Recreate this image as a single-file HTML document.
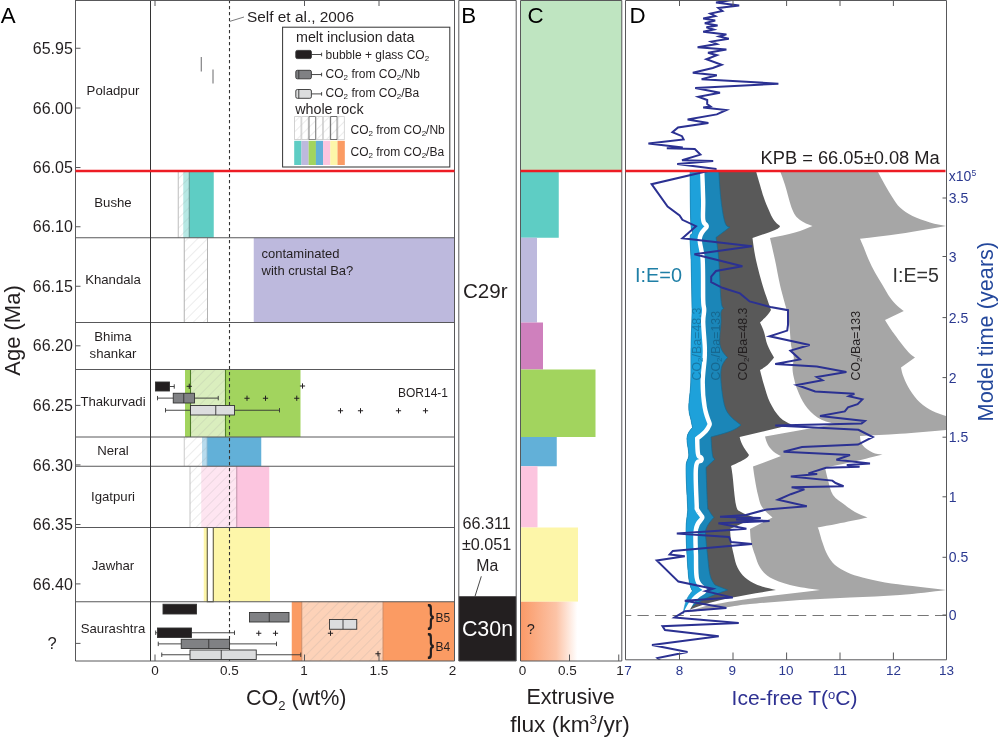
<!DOCTYPE html>
<html lang="en">
<head>
<meta charset="utf-8">
<title>Deccan CO2 budget and ice-free temperature</title>
<style>
html,body{margin:0;padding:0;background:#fff;}
body{width:1000px;height:740px;overflow:hidden;font-family:"Liberation Sans",sans-serif;}
svg{display:block;}
text{font-family:"Liberation Sans",sans-serif;fill:#231f20;}
.n{font-size:13.2px;text-anchor:middle;}
.yt{font-size:16px;text-anchor:end;}
.xt{font-size:13.5px;text-anchor:middle;}
.lg{font-size:12px;}
.lh{font-size:14.3px;}
.nv{fill:#2b3990;}
.pl{font-size:21.5px;font-family:"Liberation Sans",sans-serif;}
</style>
</head>
<body>
<svg width="1000" height="740" viewBox="0 0 1000 740">
<defs>
<pattern id="hatch" width="7" height="7" patternUnits="userSpaceOnUse" patternTransform="rotate(-45)">
<line x1="0" y1="0" x2="7" y2="0" stroke="#9a9a9a" stroke-width="0.7" stroke-opacity="0.55"/>
</pattern>
<linearGradient id="og" x1="0" x2="1" y1="0" y2="0">
<stop offset="0" stop-color="#fa9a68"/>
<stop offset="0.35" stop-color="#fcc3a6"/>
<stop offset="0.56" stop-color="#ffffff"/>
<stop offset="1" stop-color="#ffffff"/>
</linearGradient>
<clipPath id="clipD"><rect x="625.5" y="0" width="321" height="660"/></clipPath>
</defs>
<rect x="0" y="0" width="1000" height="740" fill="#ffffff"/>

<g id="panelA">
<rect x="183.25" y="171.00" width="30.50" height="66.75" fill="#5ecdc4" />
<rect x="253.75" y="237.75" width="200.75" height="84.75" fill="#bdb9dd" />
<rect x="185.00" y="369.50" width="115.50" height="67.50" fill="#a2d45e" />
<rect x="202.00" y="437.00" width="59.25" height="29.25" fill="#62b0d8" />
<rect x="201.25" y="466.25" width="68.00" height="61.25" fill="#fcc5df" />
<rect x="203.75" y="527.50" width="66.25" height="74.25" fill="#fdf6a9" />
<rect x="291.75" y="601.75" width="162.75" height="59.25" fill="#fb9b63" />
<rect x="178.25" y="171.00" width="11.00" height="66.75" fill="#ffffff" fill-opacity="0.55"/>
<rect x="178.25" y="171.00" width="11.00" height="66.75" fill="url(#hatch)" />
<line x1="178.25" y1="171.00" x2="178.25" y2="237.75" stroke="#b5b5b5" stroke-width="0.90"/>
<line x1="189.25" y1="171.00" x2="189.25" y2="237.75" stroke="#5c8f8a" stroke-width="0.90"/>
<rect x="184.25" y="237.75" width="23.25" height="84.75" fill="#ffffff" fill-opacity="0.55"/>
<rect x="184.25" y="237.75" width="23.25" height="84.75" fill="url(#hatch)" />
<line x1="184.25" y1="237.75" x2="184.25" y2="322.50" stroke="#a9a9a9" stroke-width="0.90"/>
<line x1="207.50" y1="237.75" x2="207.50" y2="322.50" stroke="#a9a9a9" stroke-width="0.90"/>
<rect x="190.50" y="369.50" width="35.00" height="67.50" fill="#ffffff" fill-opacity="0.60"/>
<rect x="190.50" y="369.50" width="35.00" height="67.50" fill="url(#hatch)" />
<line x1="190.50" y1="369.50" x2="190.50" y2="437.00" stroke="#4f7f28" stroke-width="1.10"/>
<line x1="225.50" y1="369.50" x2="225.50" y2="437.00" stroke="#4f7f28" stroke-width="1.10"/>
<rect x="184.25" y="437.00" width="22.75" height="29.25" fill="#ffffff" fill-opacity="0.55"/>
<rect x="184.25" y="437.00" width="22.75" height="29.25" fill="url(#hatch)" />
<line x1="184.25" y1="437.00" x2="184.25" y2="466.25" stroke="#c4c4c4" stroke-width="0.90"/>
<line x1="207.00" y1="437.00" x2="207.00" y2="466.25" stroke="#8fb9d0" stroke-width="0.90"/>
<rect x="190.00" y="466.25" width="46.75" height="61.25" fill="#ffffff" fill-opacity="0.55"/>
<rect x="190.00" y="466.25" width="46.75" height="61.25" fill="url(#hatch)" />
<line x1="190.00" y1="466.25" x2="190.00" y2="527.50" stroke="#bdbdbd" stroke-width="0.90"/>
<line x1="236.75" y1="466.25" x2="236.75" y2="527.50" stroke="#b98aa3" stroke-width="0.90"/>
<rect x="207.25" y="527.50" width="6.00" height="74.25" fill="#ffffff" stroke="#4d4a33" stroke-width="1"/>
<rect x="301.75" y="601.75" width="81.25" height="59.25" fill="#ffffff" fill-opacity="0.55"/>
<rect x="301.75" y="601.75" width="81.25" height="59.25" fill="url(#hatch)" />
<line x1="301.75" y1="601.75" x2="301.75" y2="661.00" stroke="#c98a68" stroke-width="0.90"/>
<line x1="383.00" y1="601.75" x2="383.00" y2="661.00" stroke="#c98a68" stroke-width="0.90"/>
<line x1="201.25" y1="57" x2="201.25" y2="71.5" stroke="#58585a" stroke-width="0.9"/>
<line x1="213" y1="69.5" x2="213" y2="83.5" stroke="#58585a" stroke-width="0.9"/>
<line x1="75.5" y1="237.75" x2="454.5" y2="237.75" stroke="#58585a" stroke-width="1"/>
<line x1="75.5" y1="322.50" x2="454.5" y2="322.50" stroke="#58585a" stroke-width="1"/>
<line x1="75.5" y1="369.50" x2="454.5" y2="369.50" stroke="#58585a" stroke-width="1"/>
<line x1="75.5" y1="437.00" x2="454.5" y2="437.00" stroke="#58585a" stroke-width="1"/>
<line x1="75.5" y1="466.25" x2="454.5" y2="466.25" stroke="#58585a" stroke-width="1"/>
<line x1="75.5" y1="527.50" x2="454.5" y2="527.50" stroke="#58585a" stroke-width="1"/>
<line x1="75.5" y1="601.75" x2="454.5" y2="601.75" stroke="#58585a" stroke-width="1"/>
<line x1="150.5" y1="0" x2="150.5" y2="661" stroke="#333" stroke-width="1"/>
<line x1="229.5" y1="0" x2="229.5" y2="661" stroke="#333" stroke-width="1.1" stroke-dasharray="3.2,2.8"/>
<path d="M75.5,0 V661 H454.5 V0" fill="none" stroke="#58585a" stroke-width="1"/>
<line x1="75.5" y1="0.5" x2="454.5" y2="0.5" stroke="#58585a" stroke-width="1"/>
<line x1="75.5" y1="48.25" x2="80.5" y2="48.25" stroke="#58585a" stroke-width="1"/>
<text class="yt" x="72.8" y="53.85">65.95</text>
<line x1="75.5" y1="108.00" x2="80.5" y2="108.00" stroke="#58585a" stroke-width="1"/>
<text class="yt" x="72.8" y="113.60">66.00</text>
<line x1="75.5" y1="167.50" x2="80.5" y2="167.50" stroke="#58585a" stroke-width="1"/>
<text class="yt" x="72.8" y="173.10">66.05</text>
<line x1="75.5" y1="226.75" x2="80.5" y2="226.75" stroke="#58585a" stroke-width="1"/>
<text class="yt" x="72.8" y="232.35">66.10</text>
<line x1="75.5" y1="286.25" x2="80.5" y2="286.25" stroke="#58585a" stroke-width="1"/>
<text class="yt" x="72.8" y="291.85">66.15</text>
<line x1="75.5" y1="345.80" x2="80.5" y2="345.80" stroke="#58585a" stroke-width="1"/>
<text class="yt" x="72.8" y="351.40">66.20</text>
<line x1="75.5" y1="405.40" x2="80.5" y2="405.40" stroke="#58585a" stroke-width="1"/>
<text class="yt" x="72.8" y="411.00">66.25</text>
<line x1="75.5" y1="464.90" x2="80.5" y2="464.90" stroke="#58585a" stroke-width="1"/>
<text class="yt" x="72.8" y="470.50">66.30</text>
<line x1="75.5" y1="524.50" x2="80.5" y2="524.50" stroke="#58585a" stroke-width="1"/>
<text class="yt" x="72.8" y="530.10">66.35</text>
<line x1="75.5" y1="583.90" x2="80.5" y2="583.90" stroke="#58585a" stroke-width="1"/>
<text class="yt" x="72.8" y="589.50">66.40</text>
<line x1="75.5" y1="643.4" x2="80.5" y2="643.4" stroke="#58585a" stroke-width="1"/>
<text x="52" y="649" font-size="16.5px" text-anchor="middle">?</text>
<line x1="155.00" y1="661" x2="155.00" y2="654.5" stroke="#58585a" stroke-width="1"/>
<line x1="229.50" y1="661" x2="229.50" y2="654.5" stroke="#58585a" stroke-width="1"/>
<line x1="304.50" y1="661" x2="304.50" y2="654.5" stroke="#58585a" stroke-width="1"/>
<line x1="379.00" y1="661" x2="379.00" y2="654.5" stroke="#58585a" stroke-width="1"/>
<line x1="155.00" y1="0" x2="155.00" y2="6" stroke="#58585a" stroke-width="1"/>
<line x1="304.50" y1="0" x2="304.50" y2="6" stroke="#58585a" stroke-width="1"/>
<line x1="379.00" y1="0" x2="379.00" y2="6" stroke="#58585a" stroke-width="1"/>
<text class="xt" x="155.00" y="674.9">0</text>
<text class="xt" x="229.50" y="674.9">0.5</text>
<text class="xt" x="304.00" y="674.9">1</text>
<text class="xt" x="379.00" y="674.9">1.5</text>
<text class="xt" x="452.50" y="674.9">2</text>
<text class="n" x="113" y="94.50">Poladpur</text>
<text class="n" x="113" y="207.00">Bushe</text>
<text class="n" x="113" y="283.75">Khandala</text>
<text class="n" x="113" y="341.25">Bhima</text>
<text class="n" x="113" y="357.50">shankar</text>
<text class="n" x="113" y="405.75">Thakurvadi</text>
<text class="n" x="113" y="455.00">Neral</text>
<text class="n" x="113" y="501.25">Igatpuri</text>
<text class="n" x="113" y="570.00">Jawhar</text>
<text class="n" x="113" y="632.50">Saurashtra</text>
<line x1="169.50" y1="386.50" x2="174.25" y2="386.50" stroke="#333" stroke-width="0.90"/>
<line x1="174.25" y1="384.30" x2="174.25" y2="388.70" stroke="#333" stroke-width="0.90"/>
<rect x="155.50" y="382.00" width="14.00" height="9.00" fill="#231f20" stroke="#333" stroke-width="0.90"/>
<path d="M186.65,386.30 h5.20 M189.25,383.70 v5.20" stroke="#231f20" stroke-width="1" fill="none"/>
<path d="M299.90,386.00 h5.20 M302.50,383.40 v5.20" stroke="#231f20" stroke-width="1" fill="none"/>
<line x1="157.50" y1="398.12" x2="173.25" y2="398.12" stroke="#333" stroke-width="0.90"/>
<line x1="157.50" y1="395.93" x2="157.50" y2="400.32" stroke="#333" stroke-width="0.90"/>
<line x1="194.50" y1="398.12" x2="218.25" y2="398.12" stroke="#333" stroke-width="0.90"/>
<line x1="218.25" y1="395.93" x2="218.25" y2="400.32" stroke="#333" stroke-width="0.90"/>
<rect x="173.25" y="393.25" width="21.25" height="9.75" fill="#808184" stroke="#333" stroke-width="0.90"/>
<line x1="183.75" y1="393.25" x2="183.75" y2="403.00" stroke="#333" stroke-width="0.90"/>
<path d="M244.40,398.25 h5.20 M247.00,395.65 v5.20" stroke="#231f20" stroke-width="1" fill="none"/>
<path d="M262.90,398.25 h5.20 M265.50,395.65 v5.20" stroke="#231f20" stroke-width="1" fill="none"/>
<path d="M294.15,398.25 h5.20 M296.75,395.65 v5.20" stroke="#231f20" stroke-width="1" fill="none"/>
<line x1="165.50" y1="410.25" x2="190.50" y2="410.25" stroke="#333" stroke-width="0.90"/>
<line x1="165.50" y1="408.05" x2="165.50" y2="412.45" stroke="#333" stroke-width="0.90"/>
<line x1="234.50" y1="410.25" x2="279.50" y2="410.25" stroke="#333" stroke-width="0.90"/>
<line x1="279.50" y1="408.05" x2="279.50" y2="412.45" stroke="#333" stroke-width="0.90"/>
<rect x="190.50" y="405.50" width="44.00" height="9.50" fill="#dcddde" stroke="#333" stroke-width="0.90"/>
<line x1="215.75" y1="405.50" x2="215.75" y2="415.00" stroke="#333" stroke-width="0.90"/>
<path d="M337.90,410.75 h5.20 M340.50,408.15 v5.20" stroke="#231f20" stroke-width="1" fill="none"/>
<path d="M357.90,410.75 h5.20 M360.50,408.15 v5.20" stroke="#231f20" stroke-width="1" fill="none"/>
<path d="M395.90,410.75 h5.20 M398.50,408.15 v5.20" stroke="#231f20" stroke-width="1" fill="none"/>
<path d="M422.90,410.75 h5.20 M425.50,408.15 v5.20" stroke="#231f20" stroke-width="1" fill="none"/>
<rect x="163.00" y="604.25" width="33.50" height="9.75" fill="#231f20" stroke="#333" stroke-width="0.90"/>
<rect x="249.50" y="612.50" width="39.50" height="9.50" fill="#808184" stroke="#333" stroke-width="0.90"/>
<line x1="269.25" y1="612.50" x2="269.25" y2="622.00" stroke="#333" stroke-width="0.90"/>
<rect x="329.50" y="619.50" width="27.25" height="9.75" fill="#dcddde" stroke="#333" stroke-width="0.90"/>
<line x1="343.00" y1="619.50" x2="343.00" y2="629.25" stroke="#333" stroke-width="0.90"/>
<line x1="155.70" y1="632.75" x2="157.50" y2="632.75" stroke="#333" stroke-width="0.90"/>
<line x1="155.70" y1="630.55" x2="155.70" y2="634.95" stroke="#333" stroke-width="0.90"/>
<line x1="191.50" y1="632.75" x2="234.50" y2="632.75" stroke="#333" stroke-width="0.90"/>
<line x1="234.50" y1="630.55" x2="234.50" y2="634.95" stroke="#333" stroke-width="0.90"/>
<rect x="157.50" y="628.00" width="34.00" height="9.50" fill="#231f20" stroke="#333" stroke-width="0.90"/>
<path d="M256.15,633.25 h5.20 M258.75,630.65 v5.20" stroke="#231f20" stroke-width="1" fill="none"/>
<path d="M272.90,633.25 h5.20 M275.50,630.65 v5.20" stroke="#231f20" stroke-width="1" fill="none"/>
<path d="M327.90,633.25 h5.20 M330.50,630.65 v5.20" stroke="#231f20" stroke-width="1" fill="none"/>
<line x1="158.25" y1="643.88" x2="181.25" y2="643.88" stroke="#333" stroke-width="0.90"/>
<line x1="158.25" y1="641.67" x2="158.25" y2="646.08" stroke="#333" stroke-width="0.90"/>
<line x1="229.50" y1="643.88" x2="276.50" y2="643.88" stroke="#333" stroke-width="0.90"/>
<line x1="276.50" y1="641.67" x2="276.50" y2="646.08" stroke="#333" stroke-width="0.90"/>
<rect x="181.25" y="639.25" width="48.25" height="9.25" fill="#808184" stroke="#333" stroke-width="0.90"/>
<line x1="208.75" y1="639.25" x2="208.75" y2="648.50" stroke="#333" stroke-width="0.90"/>
<line x1="161.75" y1="654.75" x2="190.00" y2="654.75" stroke="#333" stroke-width="0.90"/>
<line x1="161.75" y1="652.55" x2="161.75" y2="656.95" stroke="#333" stroke-width="0.90"/>
<line x1="256.25" y1="654.75" x2="300.75" y2="654.75" stroke="#333" stroke-width="0.90"/>
<line x1="300.75" y1="652.55" x2="300.75" y2="656.95" stroke="#333" stroke-width="0.90"/>
<rect x="190.00" y="650.00" width="66.25" height="9.50" fill="#dcddde" stroke="#333" stroke-width="0.90"/>
<line x1="221.25" y1="650.00" x2="221.25" y2="659.50" stroke="#333" stroke-width="0.90"/>
<path d="M375.40,653.75 h5.20 M378.00,651.15 v5.20" stroke="#231f20" stroke-width="1" fill="none"/>
<text x="261.5" y="258" font-size="13px">contaminated</text>
<text x="261.5" y="275" font-size="13px">with crustal Ba?</text>
<text x="398" y="396.75" font-size="12px">BOR14-1</text>
<text x="435.5" y="622" font-size="12px">B5</text>
<text x="435.5" y="651.25" font-size="12px">B4</text>
<text transform="translate(427.6,623.6) scale(0.62,1)" font-size="27.5px" font-weight="bold">}</text>
<text transform="translate(427.6,652.6) scale(0.62,1)" font-size="27.5px" font-weight="bold">}</text>
<line x1="75.5" y1="171" x2="454.5" y2="171" stroke="#ed1c24" stroke-width="2.4"/>
<line x1="230" y1="21.3" x2="244" y2="17" stroke="#58585a" stroke-width="0.8"/>
<text x="247" y="22" font-size="15.4px">Self et al., 2006</text>
<rect x="282.6" y="27.2" width="167.2" height="139.8" fill="#fff" stroke="#333" stroke-width="1"/>
<text class="lh" x="296" y="42">melt inclusion data</text>
<text class="lg" x="325.6" y="58.7">bubble + glass CO<tspan font-size="8px" dy="2">2</tspan></text>
<text class="lg" x="325.6" y="77.8">CO<tspan font-size="8px" dy="2">2</tspan><tspan dy="-2"> from CO</tspan><tspan font-size="8px" dy="2">2</tspan><tspan dy="-2">/Nb</tspan></text>
<text class="lg" x="325.6" y="96.7">CO<tspan font-size="8px" dy="2">2</tspan><tspan dy="-2"> from CO</tspan><tspan font-size="8px" dy="2">2</tspan><tspan dy="-2">/Ba</tspan></text>
<text class="lh" x="295.2" y="113.7">whole rock</text>
<text class="lg" x="350.5" y="133.7">CO<tspan font-size="8px" dy="2">2</tspan><tspan dy="-2"> from CO</tspan><tspan font-size="8px" dy="2">2</tspan><tspan dy="-2">/Nb</tspan></text>
<text class="lg" x="350.5" y="155.5">CO<tspan font-size="8px" dy="2">2</tspan><tspan dy="-2"> from CO</tspan><tspan font-size="8px" dy="2">2</tspan><tspan dy="-2">/Ba</tspan></text>
<line x1="311.4" y1="54.50" x2="321.6" y2="54.50" stroke="#333" stroke-width="0.9"/>
<line x1="321.6" y1="52.70" x2="321.6" y2="56.30" stroke="#333" stroke-width="0.9"/>
<rect x="295.8" y="50.40" width="15.6" height="8.20" rx="1.5" fill="#231f20" stroke="#333" stroke-width="0.9"/>
<line x1="311.4" y1="74.55" x2="321.6" y2="74.55" stroke="#333" stroke-width="0.9"/>
<line x1="321.6" y1="72.75" x2="321.6" y2="76.35" stroke="#333" stroke-width="0.9"/>
<rect x="295.8" y="70.30" width="15.6" height="8.50" rx="1.5" fill="#808184" stroke="#333" stroke-width="0.9"/>
<line x1="298.8" y1="70.30" x2="298.8" y2="78.80" stroke="#333" stroke-width="0.9"/>
<line x1="311.4" y1="93.90" x2="321.6" y2="93.90" stroke="#333" stroke-width="0.9"/>
<line x1="321.6" y1="92.10" x2="321.6" y2="95.70" stroke="#333" stroke-width="0.9"/>
<rect x="295.8" y="89.50" width="15.6" height="8.80" rx="1.5" fill="#dcddde" stroke="#333" stroke-width="0.9"/>
<line x1="298.8" y1="89.50" x2="298.8" y2="98.30" stroke="#333" stroke-width="0.9"/>
<rect x="294.20" y="116.6" width="7.22" height="23" fill="url(#hatch)"/>
<rect x="294.60" y="116.6" width="6.40" height="23" fill="none" stroke="#c8c8c8" stroke-width="0.8"/>
<rect x="294.20" y="140.8" width="7.3" height="24.2" fill="#5ecdc4"/>
<rect x="301.42" y="116.6" width="7.22" height="23" fill="url(#hatch)"/>
<rect x="301.82" y="116.6" width="6.40" height="23" fill="none" stroke="#c8c8c8" stroke-width="0.8"/>
<rect x="301.42" y="140.8" width="7.3" height="24.2" fill="#bdb9dd"/>
<rect x="308.64" y="116.6" width="7.22" height="23" fill="url(#hatch)"/>
<rect x="309.04" y="116.6" width="6.40" height="23" fill="none" stroke="#6d6d6d" stroke-width="0.8"/>
<rect x="308.64" y="140.8" width="7.3" height="24.2" fill="#a2d45e"/>
<rect x="315.86" y="116.6" width="7.22" height="23" fill="url(#hatch)"/>
<rect x="316.26" y="116.6" width="6.40" height="23" fill="none" stroke="#c8c8c8" stroke-width="0.8"/>
<rect x="315.86" y="140.8" width="7.3" height="24.2" fill="#62b0d8"/>
<rect x="323.08" y="116.6" width="7.22" height="23" fill="url(#hatch)"/>
<rect x="323.48" y="116.6" width="6.40" height="23" fill="none" stroke="#cfcfcf" stroke-width="0.8"/>
<rect x="323.08" y="140.8" width="7.3" height="24.2" fill="#fcc5df"/>
<rect x="330.30" y="116.6" width="7.22" height="23" fill="url(#hatch)"/>
<rect x="330.70" y="116.6" width="6.40" height="23" fill="none" stroke="#4a4a4a" stroke-width="0.8"/>
<rect x="330.30" y="140.8" width="7.3" height="24.2" fill="#fdf6a9"/>
<rect x="337.52" y="116.6" width="7.22" height="23" fill="url(#hatch)"/>
<rect x="337.92" y="116.6" width="6.40" height="23" fill="none" stroke="#cfcfcf" stroke-width="0.8"/>
<rect x="337.52" y="140.8" width="7.3" height="24.2" fill="#fb9b63"/>
<text x="0.8" y="22.5" font-size="22.3px" style="fill:#000">A</text>
<text transform="translate(19.9,330.5) rotate(-90)" text-anchor="middle" font-size="22px">Age (Ma)</text>
<text x="296.3" y="705" text-anchor="middle" font-size="21.5px">CO<tspan font-size="13px" dy="5">2</tspan><tspan dy="-5"> (wt%)</tspan></text>
</g>
<g id="panelB">
<rect x="458.8" y="596.25" width="57.4" height="64.75" fill="#231f20"/>
<path d="M458.8,0.5 V661 H516.2 V0.5 Z" fill="none" stroke="#58585a" stroke-width="1"/>
<text x="461.2" y="22.5" font-size="22.3px" style="fill:#000">B</text>
<text x="485.3" y="297.5" text-anchor="middle" font-size="20.6px">C29r</text>
<text x="486.7" y="528.75" text-anchor="middle" font-size="16.2px">66.311</text>
<text x="486.7" y="550" text-anchor="middle" font-size="16.2px">±0.051</text>
<text x="487.2" y="571.25" text-anchor="middle" font-size="15.8px">Ma</text>
<line x1="481.3" y1="576.3" x2="475" y2="596.3" stroke="#333" stroke-width="0.9"/>
<text x="487.5" y="635.5" text-anchor="middle" font-size="21.4px" style="fill:#ffffff">C30n</text>
</g>
<g id="panelC">
<rect x="521.00" y="0.00" width="100.80" height="170.00" fill="#bfe5c1" />
<rect x="521.00" y="171.00" width="37.75" height="66.75" fill="#5ecdc4" />
<rect x="521.00" y="237.75" width="16.00" height="84.75" fill="#bdb9dd" />
<rect x="521.00" y="322.50" width="22.00" height="47.00" fill="#cf80bd" />
<rect x="521.00" y="369.50" width="74.50" height="67.50" fill="#a2d45e" />
<rect x="521.00" y="437.00" width="35.75" height="29.25" fill="#62b0d8" />
<rect x="521.00" y="466.25" width="16.50" height="61.25" fill="#fcc5df" />
<rect x="521.00" y="527.50" width="57.00" height="74.25" fill="#fdf6a9" />
<rect x="521.00" y="601.75" width="100.50" height="59.25" fill="url(#og)" />
<path d="M520.5,0.5 V661 H621.8 V0.5 Z" fill="none" stroke="#58585a" stroke-width="1"/>
<line x1="520.5" y1="171" x2="621.8" y2="171" stroke="#ed1c24" stroke-width="2.4"/>
<line x1="569.50" y1="661" x2="569.50" y2="654.5" stroke="#58585a" stroke-width="1"/>
<line x1="618.75" y1="661" x2="618.75" y2="654.5" stroke="#58585a" stroke-width="1"/>
<text class="xt" x="522.50" y="674.9">0</text>
<text class="xt" x="567.50" y="674.9">0.5</text>
<text class="xt" x="620.00" y="674.9">1</text>
<text x="527.5" y="22.5" font-size="22.3px" style="fill:#000">C</text>
<text x="526.8" y="634" font-size="14.5px">?</text>
<text x="570.6" y="704.25" text-anchor="middle" font-size="21.5px">Extrusive</text>
<text x="570" y="732" text-anchor="middle" font-size="22.7px">flux (km<tspan font-size="13.5px" dy="-8">3</tspan><tspan dy="8">/yr)</tspan></text>
</g>
<g id="panelD">
<g clip-path="url(#clipD)">
<path d="M780.0,171.0C781.3,174.4 782.9,178.5 785.0,185.0C787.1,191.5 790.0,204.2 792.5,210.0C795.0,215.8 796.7,217.3 800.0,220.0C803.3,222.7 808.4,224.5 812.5,226.0C807.8,228.0 802.1,230.5 795.0,232.5C787.9,234.5 778.1,236.4 770.0,238.0C771.5,244.4 773.3,252.2 775.0,260.0C776.7,267.8 778.2,277.1 780.0,285.0C781.8,292.9 784.5,301.7 786.0,307.5C787.5,313.3 788.1,315.8 788.8,320.0C789.4,324.2 789.6,328.3 790.0,332.5C790.4,336.7 790.4,340.8 791.0,345.0C791.6,349.2 793.5,353.8 793.8,357.5C794.0,361.2 792.5,364.2 792.5,367.5C792.5,370.8 792.9,373.8 793.8,377.5C794.6,381.2 795.6,385.4 797.5,390.0C799.4,394.6 801.7,400.4 805.0,405.0C808.3,409.6 812.5,414.3 817.5,417.5C822.5,420.7 829.4,422.5 835.0,424.0L765.0,436.6C765.7,439.2 766.5,442.4 768.0,445.0C769.5,447.6 771.8,450.2 774.0,452.0C776.2,453.8 778.8,455.0 781.0,456.0L753.0,466.5C753.5,470.4 754.2,475.2 755.0,480.0C755.8,484.8 756.8,490.5 758.0,495.0C759.2,499.5 759.6,503.2 762.0,507.0C764.4,510.8 768.9,514.5 772.5,517.5L750.0,529.0C750.2,533.1 750.4,538.2 751.2,542.5C752.1,546.8 753.5,550.8 755.0,555.0C756.5,559.2 757.5,563.8 760.0,567.5C762.5,571.2 765.0,574.6 770.0,577.5C775.0,580.4 781.7,582.9 790.0,585.0C798.3,587.1 810.2,588.7 820.0,590.0C804.6,591.8 785.8,593.9 770.0,596.0C754.2,598.1 736.2,600.7 725.0,602.5C713.8,604.3 709.5,605.2 702.5,607.0C695.5,608.8 688.6,611.1 683.0,613.0L683.0,613.0C696.9,611.2 713.8,609.0 725.0,607.5C736.2,606.0 737.5,605.2 750.0,604.0C762.5,602.8 783.3,601.1 800.0,600.0C816.7,598.9 833.3,598.3 850.0,597.5C866.7,596.7 884.0,596.2 900.0,595.0C916.0,593.8 932.5,591.7 946.0,590.0C935.5,588.8 922.7,587.2 912.5,586.0C902.3,584.8 893.3,583.9 885.0,582.5C876.7,581.1 868.8,579.2 862.5,577.5C856.2,575.8 852.1,574.6 847.5,572.5C842.9,570.4 838.3,567.9 835.0,565.0C831.7,562.1 829.6,558.8 827.5,555.0C825.4,551.2 824.0,546.7 822.5,542.5C821.0,538.3 819.6,532.5 818.8,530.0C817.9,527.5 817.7,527.5 817.5,527.5C822.8,526.6 829.2,525.4 837.5,523.8C845.8,522.1 857.8,519.6 867.5,517.5C863.6,516.0 858.8,514.1 855.0,512.0C851.2,509.9 848.7,507.8 845.0,505.0C841.3,502.2 835.8,499.2 833.0,495.0C830.2,490.8 829.3,484.6 828.0,480.0C826.7,475.4 825.8,471.1 825.0,467.5C831.9,466.2 840.4,464.7 850.0,462.5C859.6,460.3 872.2,457.1 882.5,454.5C879.5,454.3 875.8,454.1 872.5,452.5C869.2,450.9 864.6,447.8 862.5,445.0C860.4,442.2 860.2,438.8 860.0,436.0C871.5,435.4 885.7,434.8 900.0,433.8C914.3,432.8 931.8,431.2 946.0,430.0L946.0,416.0C941.9,414.8 936.8,413.2 932.5,411.0C928.2,408.8 923.8,406.0 920.0,402.5C916.2,399.0 912.7,394.2 910.0,390.0C907.3,385.8 905.2,381.2 903.8,377.5C902.2,373.8 901.6,370.3 901.0,367.5L915.0,357.5C913.7,356.8 912.1,355.8 910.0,353.8C907.9,351.7 905.0,348.1 902.5,345.0C900.0,341.9 897.1,337.8 895.0,335.0C892.9,332.2 891.7,330.5 890.0,328.0C888.3,325.5 886.5,322.5 885.0,320.0L903.8,311.0C902.0,309.8 899.8,308.2 897.5,306.0C895.2,303.8 892.5,301.0 890.0,297.5C887.5,294.0 885.0,289.2 882.5,285.0C880.0,280.8 877.3,276.7 875.0,272.5C872.7,268.3 870.6,264.2 868.8,260.0C866.9,255.8 865.2,251.0 863.8,247.5C862.3,244.0 861.0,241.1 860.0,238.8C871.5,237.5 885.7,235.9 900.0,233.8C914.3,231.6 931.8,228.5 946.0,226.0C941.3,225.2 935.6,224.2 930.0,222.5C924.4,220.8 917.5,218.5 912.5,216.0C907.5,213.5 903.3,210.6 900.0,207.5C896.7,204.4 895.0,201.2 892.5,197.5C890.0,193.8 887.5,189.4 885.0,185.0C882.5,180.6 879.8,175.3 877.5,171.0Z" fill="#a6a6a6"/>
<path d="M690.0,171.0C690.1,189.6 690.3,212.2 690.8,222.5C691.2,232.8 692.6,230.0 692.5,232.5C692.4,235.0 690.2,232.9 690.0,237.5C689.8,242.1 690.7,247.9 691.0,260.0C691.3,272.1 692.0,295.8 692.0,310.0C692.0,324.2 691.2,333.0 691.0,345.0C690.8,357.0 691.1,371.6 690.8,382.0C690.4,392.4 688.7,401.2 688.8,407.5C688.8,413.8 690.4,416.7 691.0,420.0C691.6,423.3 692.1,425.6 692.5,427.5C690.3,429.9 687.6,432.9 687.0,437.5C686.4,442.1 688.9,450.0 688.8,455.0C688.6,460.0 686.2,459.2 686.0,467.5C685.8,475.8 687.2,497.5 687.5,505.0C687.8,512.5 687.8,508.5 687.5,512.5C687.2,516.5 686.1,521.9 686.0,529.0C685.9,536.1 686.5,546.5 687.0,555.0C687.5,563.5 688.1,574.0 689.0,580.0C689.9,586.0 691.3,588.8 692.5,591.0C690.5,593.3 688.1,596.2 686.5,600.0C684.9,603.8 683.9,609.4 683.0,614.0L683.0,613.0C688.1,610.6 694.2,607.6 702.5,605.0C710.8,602.4 720.2,600.0 732.5,597.5C744.8,595.0 761.9,592.2 776.0,590.0C770.0,588.7 762.7,587.1 757.5,585.0C752.3,582.9 748.3,580.4 745.0,577.5C741.7,574.6 739.4,571.2 737.5,567.5C735.6,563.8 734.8,559.2 733.8,555.0C732.7,550.8 731.9,546.8 731.2,542.5C730.6,538.2 730.3,533.1 730.0,529.0L755.0,517.5C750.1,516.0 744.2,514.1 741.0,512.0C737.8,509.9 737.4,511.2 736.0,505.0C734.6,498.8 733.3,481.5 732.5,475.0C731.7,468.5 731.3,467.1 731.0,466.0C736.0,463.7 742.0,460.8 745.0,459.0C748.0,457.2 748.5,456.0 749.0,455.0C746.8,451.9 744.1,448.0 742.5,445.0C740.9,442.0 740.2,439.2 739.6,437.0L792.0,424.6C788.2,423.1 783.7,421.2 780.0,417.5C776.3,413.8 772.7,407.9 770.0,402.5C767.3,397.1 765.7,390.4 764.0,385.0C762.3,379.6 761.1,374.3 760.0,370.0C762.3,368.7 765.2,367.1 767.5,365.0C769.8,362.9 772.1,359.9 774.0,357.5C771.8,353.8 769.2,349.2 767.5,345.0C765.8,340.8 765.2,335.8 764.0,332.0C762.8,328.2 761.2,325.1 760.0,322.5C762.5,320.1 765.7,317.1 767.5,315.0C769.3,312.9 770.2,311.3 771.0,310.0C770.1,307.4 768.9,304.2 767.5,300.0C766.1,295.8 764.4,291.7 762.5,285.0C760.6,278.3 757.7,267.8 756.0,260.0C754.3,252.2 753.3,244.4 752.5,238.0C760.6,235.3 770.4,232.0 775.0,230.0C779.6,228.0 779.8,226.9 780.0,226.0C778.0,224.5 775.6,222.7 773.8,220.0C771.9,217.3 770.4,213.8 768.8,210.0C767.1,206.2 765.2,201.7 763.8,197.5C762.3,193.3 761.3,189.4 760.0,185.0C758.7,180.6 757.2,175.3 756.0,171.0Z" fill="#595959"/>
<path d="M690.0,171.0C690.1,189.6 690.3,212.2 690.8,222.5C691.2,232.8 692.6,230.0 692.5,232.5C692.4,235.0 690.2,232.9 690.0,237.5C689.8,242.1 690.7,247.9 691.0,260.0C691.3,272.1 692.0,295.8 692.0,310.0C692.0,324.2 691.2,333.0 691.0,345.0C690.8,357.0 691.1,371.6 690.8,382.0C690.4,392.4 688.7,401.2 688.8,407.5C688.8,413.8 690.4,416.7 691.0,420.0C691.6,423.3 692.1,425.6 692.5,427.5C690.3,429.9 687.6,432.9 687.0,437.5C686.4,442.1 688.9,450.0 688.8,455.0C688.6,460.0 686.2,459.2 686.0,467.5C685.8,475.8 687.2,497.5 687.5,505.0C687.8,512.5 687.8,508.5 687.5,512.5C687.2,516.5 686.1,521.9 686.0,529.0C685.9,536.1 686.5,546.5 687.0,555.0C687.5,563.5 688.1,574.0 689.0,580.0C689.9,586.0 691.3,588.8 692.5,591.0C690.5,593.3 688.1,596.2 686.5,600.0C684.9,603.8 683.9,609.4 683.0,614.0L683.0,613.0C688.4,608.9 695.1,603.8 702.5,600.0C709.9,596.2 719.6,592.8 727.5,590.0L715.0,585.0C713.3,582.8 711.2,580.0 710.0,575.0C708.8,570.0 708.1,560.4 707.5,555.0C706.9,549.6 706.5,546.8 706.2,542.5C706.0,538.2 704.8,533.2 706.0,529.0C707.2,524.8 710.8,520.8 713.8,517.5C712.0,515.1 709.8,512.1 708.8,510.0C707.7,507.9 708.0,512.1 707.5,505.0C707.0,497.9 706.5,481.2 706.0,467.5L715.0,459.0C714.2,458.9 713.2,458.7 712.5,455.0C711.8,451.3 711.4,443.4 711.0,437.0C717.8,435.2 726.0,433.0 731.0,431.0C736.0,429.0 738.8,426.8 741.0,425.0C736.3,421.6 730.6,417.5 727.5,412.5C724.4,407.5 723.6,402.1 722.5,395.0C721.4,387.9 720.2,376.2 721.0,370.0C721.8,363.8 725.0,360.3 727.5,357.5C724.6,354.5 721.1,350.9 720.0,345.0C718.9,339.1 720.8,327.5 721.0,322.0C721.2,316.5 720.5,314.3 721.0,312.0C721.5,309.7 722.7,308.8 723.8,308.0C722.9,308.0 721.8,308.0 721.0,300.0C720.2,292.0 719.6,270.4 718.8,260.0C717.9,249.6 716.9,242.9 716.0,237.5L730.0,227.0C728.4,227.0 726.5,227.0 725.0,222.5C723.5,218.0 722.0,208.6 721.0,200.0C720.0,191.4 719.3,180.2 718.8,171.0Z" fill="#1b86b8"/>
<path d="M718.8,171.0C719.3,180.2 720.0,191.4 721.0,200.0C722.0,208.6 723.5,218.0 725.0,222.5C726.5,227.0 728.4,227.0 730.0,227.0L716.0,237.5C716.9,242.9 717.9,249.6 718.8,260.0C719.6,270.4 720.2,292.0 721.0,300.0C721.8,308.0 722.9,308.0 723.8,308.0C722.7,308.8 721.5,309.7 721.0,312.0C720.5,314.3 721.2,316.5 721.0,322.0C720.8,327.5 718.9,339.1 720.0,345.0C721.1,350.9 724.6,354.5 727.5,357.5C725.0,360.3 721.8,363.8 721.0,370.0C720.2,376.2 721.4,387.9 722.5,395.0C723.6,402.1 724.4,407.5 727.5,412.5C730.6,417.5 736.3,421.6 741.0,425.0C738.8,426.8 736.0,429.0 731.0,431.0C726.0,433.0 717.8,435.2 711.0,437.0C711.4,443.4 711.8,451.3 712.5,455.0C713.2,458.7 714.2,458.9 715.0,459.0L706.0,467.5C706.5,481.2 707.0,497.9 707.5,505.0C708.0,512.1 707.7,507.9 708.8,510.0C709.8,512.1 712.0,515.1 713.8,517.5C710.8,520.8 707.2,524.8 706.0,529.0C704.8,533.2 706.0,538.2 706.2,542.5C706.5,546.8 706.9,549.6 707.5,555.0C708.1,560.4 708.8,570.0 710.0,575.0C711.2,580.0 713.3,582.8 715.0,585.0L727.5,590.0C719.6,592.8 709.9,596.2 702.5,600.0C695.1,603.8 688.4,608.9 683.0,613.0" fill="none" stroke="#126a94" stroke-width="0.7"/>
<path d="M700.0,171.0C700.4,180.4 700.8,191.8 701.0,200.0C701.2,208.2 700.4,215.6 701.0,220.0C701.6,224.4 703.2,225.4 704.5,226.2C701.7,229.0 698.3,232.4 697.6,238.0C696.9,243.6 699.9,249.7 700.5,260.0C701.1,270.3 700.8,291.7 701.0,300.0C701.2,308.3 702.0,306.3 702.0,310.0C702.0,313.7 700.9,316.2 701.0,322.0C701.1,327.8 702.2,339.1 702.5,345.0C702.8,350.9 702.8,351.2 702.5,357.5C702.2,363.8 700.5,374.2 700.5,382.5C700.5,390.8 701.3,400.6 702.5,407.5C703.7,414.4 705.8,419.7 707.5,424.0C706.8,425.7 705.8,427.8 703.8,430.0C701.7,432.2 698.0,435.1 695.0,437.5C695.1,443.8 695.2,451.4 696.0,455.0C696.8,458.6 698.3,458.8 699.5,459.0C697.3,459.4 694.6,459.8 693.8,467.5C692.9,475.2 694.3,497.9 694.5,505.0C694.7,512.1 694.1,507.9 695.0,510.0C695.9,512.1 698.2,515.1 700.0,517.5C697.7,519.9 694.8,522.8 693.8,529.0C692.7,535.2 693.5,546.5 693.8,555.0C694.0,563.5 693.5,574.2 695.0,580.0C696.5,585.8 699.8,588.1 702.5,590.0C699.5,591.6 695.8,593.7 692.5,597.5C689.2,601.3 685.8,607.8 683.0,613.0" fill="none" stroke="#ffffff" stroke-width="8.8" stroke-linejoin="round"/>
<path d="M690.0,171.0C690.1,189.6 690.3,212.2 690.8,222.5C691.2,232.8 692.6,230.0 692.5,232.5C692.4,235.0 690.2,232.9 690.0,237.5C689.8,242.1 690.7,247.9 691.0,260.0C691.3,272.1 692.0,295.8 692.0,310.0C692.0,324.2 691.2,333.0 691.0,345.0C690.8,357.0 691.1,371.6 690.8,382.0C690.4,392.4 688.7,401.2 688.8,407.5C688.8,413.8 690.4,416.7 691.0,420.0C691.6,423.3 692.1,425.6 692.5,427.5C690.3,429.9 687.6,432.9 687.0,437.5C686.4,442.1 688.9,450.0 688.8,455.0C688.6,460.0 686.2,459.2 686.0,467.5C685.8,475.8 687.2,497.5 687.5,505.0C687.8,512.5 687.8,508.5 687.5,512.5C687.2,516.5 686.1,521.9 686.0,529.0C685.9,536.1 686.5,546.5 687.0,555.0C687.5,563.5 688.1,574.0 689.0,580.0C689.9,586.0 691.3,588.8 692.5,591.0C690.5,593.3 688.1,596.2 686.5,600.0C684.9,603.8 683.9,609.4 683.0,614.0L683.0,613.0C685.8,607.8 689.2,601.3 692.5,597.5C695.8,593.7 699.5,591.6 702.5,590.0C699.8,588.1 696.5,585.8 695.0,580.0C693.5,574.2 694.0,563.5 693.8,555.0C693.5,546.5 692.7,535.2 693.8,529.0C694.8,522.8 697.7,519.9 700.0,517.5C698.2,515.1 695.9,512.1 695.0,510.0C694.1,507.9 694.7,512.1 694.5,505.0C694.3,497.9 692.9,475.2 693.8,467.5C694.6,459.8 697.3,459.4 699.5,459.0C698.3,458.8 696.8,458.6 696.0,455.0C695.2,451.4 695.1,443.8 695.0,437.5C698.0,435.1 701.7,432.2 703.8,430.0C705.8,427.8 706.8,425.7 707.5,424.0C705.8,419.7 703.7,414.4 702.5,407.5C701.3,400.6 700.5,390.8 700.5,382.5C700.5,374.2 702.2,363.8 702.5,357.5C702.8,351.2 702.8,350.9 702.5,345.0C702.2,339.1 701.1,327.8 701.0,322.0C700.9,316.2 702.0,313.7 702.0,310.0C702.0,306.3 701.2,308.3 701.0,300.0C700.8,291.7 701.1,270.3 700.5,260.0C699.9,249.7 696.9,243.6 697.6,238.0C698.3,232.4 701.7,229.0 704.5,226.2C703.2,225.4 701.6,224.4 701.0,220.0C700.4,215.6 701.2,208.2 701.0,200.0C700.8,191.8 700.4,180.4 700.0,171.0Z" fill="#1ea1da"/>
<path d="M690.0,171.0C690.1,189.6 690.3,212.2 690.8,222.5C691.2,232.8 692.6,230.0 692.5,232.5C692.4,235.0 690.2,232.9 690.0,237.5C689.8,242.1 690.7,247.9 691.0,260.0C691.3,272.1 692.0,295.8 692.0,310.0C692.0,324.2 691.2,333.0 691.0,345.0C690.8,357.0 691.1,371.6 690.8,382.0C690.4,392.4 688.7,401.2 688.8,407.5C688.8,413.8 690.4,416.7 691.0,420.0C691.6,423.3 692.1,425.6 692.5,427.5C690.3,429.9 687.6,432.9 687.0,437.5C686.4,442.1 688.9,450.0 688.8,455.0C688.6,460.0 686.2,459.2 686.0,467.5C685.8,475.8 687.2,497.5 687.5,505.0C687.8,512.5 687.8,508.5 687.5,512.5C687.2,516.5 686.1,521.9 686.0,529.0C685.9,536.1 686.5,546.5 687.0,555.0C687.5,563.5 688.1,574.0 689.0,580.0C689.9,586.0 691.3,588.8 692.5,591.0C690.5,593.3 688.1,596.2 686.5,600.0C684.9,603.8 683.9,609.4 683.0,614.0" fill="none" stroke="#1586b8" stroke-width="0.6"/>
</g>
<text transform="translate(701.00,380.50) rotate(-90)" font-size="12.4px" style="fill:#1878a6">CO<tspan font-size="8px" dy="2">2</tspan><tspan dy="-2">/Ba=48.3</tspan></text>
<text transform="translate(720.00,380.50) rotate(-90)" font-size="12.4px" style="fill:#176890">CO<tspan font-size="8px" dy="2">2</tspan><tspan dy="-2">/Ba=133</tspan></text>
<text transform="translate(747.00,380.50) rotate(-90)" font-size="12.4px" style="fill:#231f20">CO<tspan font-size="8px" dy="2">2</tspan><tspan dy="-2">/Ba=48.3</tspan></text>
<text transform="translate(860.00,380.50) rotate(-90)" font-size="12.4px" style="fill:#231f20">CO<tspan font-size="8px" dy="2">2</tspan><tspan dy="-2">/Ba=133</tspan></text>
<line x1="625.5" y1="615.5" x2="946" y2="615.5" stroke="#666" stroke-width="0.9" stroke-dasharray="11.25,6.25" stroke-dashoffset="5.5"/>
<polyline points="732.00,0.00 716.00,2.40 739.20,5.60 718.40,8.00 722.40,10.90 710.40,13.60 715.20,16.00 703.20,18.40 715.20,20.50 704.80,23.20 717.60,25.60 706.40,27.20 713.60,29.60 703.20,31.70 726.40,34.40 719.20,36.50 728.80,38.70 711.20,41.60 716.80,44.00 697.60,47.20 726.40,49.60 708.00,52.80 716.80,55.20 706.40,59.20 721.60,64.80 712.80,68.00 692.80,72.80 716.80,75.20 701.60,79.20 778.40,83.70 695.20,88.00 720.00,92.80 698.40,96.80 707.20,100.00 707.20,104.00 710.40,106.40 703.20,107.50 726.40,110.00 716.80,114.40 687.60,119.40 708.40,122.90 678.00,127.40 672.40,132.20 682.00,136.20 683.60,139.40 648.40,143.40 682.80,147.40 666.80,148.20 694.80,149.00 700.40,154.60 682.00,160.20 713.20,161.00 677.20,163.90 716.40,169.00 651.60,184.20 667.60,206.60 679.60,215.40 682.40,219.80 696.00,226.20 682.40,238.20 752.00,246.20 694.40,254.20 742.40,266.20 716.00,271.00 711.20,276.60 711.20,282.20 722.40,287.80 740.00,293.40 749.60,301.40 770.40,307.00 788.00,310.20 788.00,325.00 787.20,330.60 769.60,336.20 809.60,345.00 790.40,350.60 800.00,359.40 775.20,363.90 816.80,366.60 846.40,371.90 816.80,377.00 822.40,380.20 796.80,385.00 815.20,391.40 854.40,393.80 848.80,396.20 862.40,399.40 857.60,404.20 848.00,407.40 844.80,411.40 820.00,415.90 864.80,421.00 861.60,423.40 775.20,425.50 858.40,429.80 872.80,437.00 858.00,444.60 802.00,447.00 783.60,451.80 850.00,455.00 836.40,459.80 870.00,463.50 846.80,465.00 859.60,466.70 826.00,467.80 808.40,473.40 817.20,473.90 790.80,476.60 832.40,480.60 835.60,483.00 843.60,486.20 791.60,487.30 804.40,489.40 790.80,494.20 778.00,499.80 806.80,506.20 766.80,509.40 746.00,515.00 720.00,516.80 760.80,517.90 736.00,519.50 769.60,521.10 718.40,523.20 746.40,528.80 730.00,530.00 676.80,533.60 729.00,537.00 731.00,542.00 752.00,544.00 672.80,550.90 669.60,554.40 684.80,556.30 656.80,560.50 678.40,581.60 712.80,588.80 705.60,591.20 732.80,597.60 684.80,600.80 726.40,608.00 684.80,611.20 674.40,617.60 738.75,623.00 662.50,626.25 665.00,630.00 718.75,636.25 652.00,645.00 687.50,652.00 657.50,658.00 660.00,660.00" fill="none" stroke="#2b3192" stroke-width="2" stroke-linejoin="miter" clip-path="url(#clipD)"/>
<path d="M625.5,0.5 V659.8 H946.5 V0.5 Z" fill="none" stroke="#58585a" stroke-width="1"/>
<line x1="625.5" y1="171" x2="945.5" y2="171" stroke="#ed1c24" stroke-width="2.4"/>
<line x1="679.50" y1="659.8" x2="679.50" y2="652.5" stroke="#58585a" stroke-width="1"/>
<line x1="679.50" y1="0" x2="679.50" y2="6" stroke="#58585a" stroke-width="1"/>
<line x1="733.00" y1="659.8" x2="733.00" y2="652.5" stroke="#58585a" stroke-width="1"/>
<line x1="733.00" y1="0" x2="733.00" y2="6" stroke="#58585a" stroke-width="1"/>
<line x1="786.60" y1="659.8" x2="786.60" y2="652.5" stroke="#58585a" stroke-width="1"/>
<line x1="786.60" y1="0" x2="786.60" y2="6" stroke="#58585a" stroke-width="1"/>
<line x1="840.00" y1="659.8" x2="840.00" y2="652.5" stroke="#58585a" stroke-width="1"/>
<line x1="840.00" y1="0" x2="840.00" y2="6" stroke="#58585a" stroke-width="1"/>
<line x1="893.40" y1="659.8" x2="893.40" y2="652.5" stroke="#58585a" stroke-width="1"/>
<line x1="893.40" y1="0" x2="893.40" y2="6" stroke="#58585a" stroke-width="1"/>
<text class="xt nv" x="628.00" y="674.9" style="fill:#2b3990">7</text>
<text class="xt nv" x="679.50" y="674.9" style="fill:#2b3990">8</text>
<text class="xt nv" x="732.30" y="674.9" style="fill:#2b3990">9</text>
<text class="xt nv" x="786.00" y="674.9" style="fill:#2b3990">10</text>
<text class="xt nv" x="840.00" y="674.9" style="fill:#2b3990">11</text>
<text class="xt nv" x="893.50" y="674.9" style="fill:#2b3990">12</text>
<text class="xt nv" x="946.60" y="674.9" style="fill:#2b3990">13</text>
<line x1="942.5" y1="615.00" x2="946.5" y2="615.00" stroke="#58585a" stroke-width="1"/>
<text x="948.8" y="620.00" font-size="14px" style="fill:#2b3990">0</text>
<line x1="942.5" y1="557.30" x2="946.5" y2="557.30" stroke="#58585a" stroke-width="1"/>
<text x="948.8" y="562.30" font-size="14px" style="fill:#2b3990">0.5</text>
<line x1="942.5" y1="496.80" x2="946.5" y2="496.80" stroke="#58585a" stroke-width="1"/>
<text x="948.8" y="501.80" font-size="14px" style="fill:#2b3990">1</text>
<line x1="942.5" y1="437.20" x2="946.5" y2="437.20" stroke="#58585a" stroke-width="1"/>
<text x="948.8" y="442.20" font-size="14px" style="fill:#2b3990">1.5</text>
<line x1="942.5" y1="377.60" x2="946.5" y2="377.60" stroke="#58585a" stroke-width="1"/>
<text x="948.8" y="382.60" font-size="14px" style="fill:#2b3990">2</text>
<line x1="942.5" y1="317.60" x2="946.5" y2="317.60" stroke="#58585a" stroke-width="1"/>
<text x="948.8" y="322.60" font-size="14px" style="fill:#2b3990">2.5</text>
<line x1="942.5" y1="256.50" x2="946.5" y2="256.50" stroke="#58585a" stroke-width="1"/>
<text x="948.8" y="261.50" font-size="14px" style="fill:#2b3990">3</text>
<line x1="942.5" y1="198.00" x2="946.5" y2="198.00" stroke="#58585a" stroke-width="1"/>
<text x="948.8" y="203.00" font-size="14px" style="fill:#2b3990">3.5</text>
<text x="948.8" y="181" font-size="14px" style="fill:#2b3990">x10<tspan font-size="8.5px" dy="-5.5">5</tspan></text>
<text x="629.5" y="22.5" font-size="22.3px" style="fill:#000">D</text>
<text x="760.5" y="164" font-size="18.3px">KPB = 66.05±0.08 Ma</text>
<text x="635" y="281.75" font-size="19.9px" style="fill:#1f7fa6">I:E=0</text>
<text x="892.5" y="281.75" font-size="19.6px" style="fill:#333">I:E=5</text>
<text x="794.5" y="704.5" text-anchor="middle" font-size="21px" style="fill:#2e3192">Ice-free T(<tspan font-size="13px" dy="-6">o</tspan><tspan dy="6">C)</tspan></text>
<text transform="translate(993,331.6) rotate(-90)" text-anchor="middle" font-size="21.7px" style="fill:#24489c">Model time (years)</text>
</g>
</svg>
</body>
</html>
